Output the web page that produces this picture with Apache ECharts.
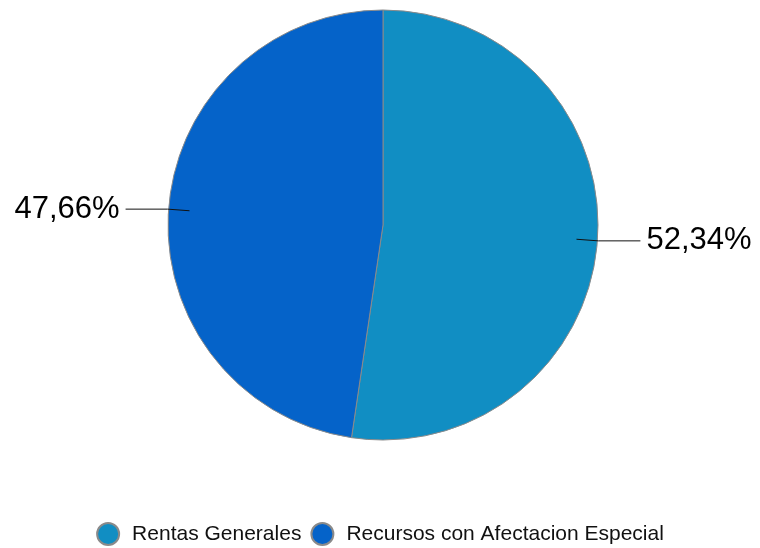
<!DOCTYPE html>
<html><head><meta charset="utf-8">
<script src="https://cdn.jsdelivr.net/npm/echarts@6/dist/echarts.min.js"></script>
<style>html,body{margin:0;padding:0;background:#fff}#c{width:760px;height:548px}</style>
</head><body><div id="c"></div>
<script>
const categories = ["Rentas Generales", "Recursos con Afectacion Especial"];
const values = [52.34, 47.66];
const colors = ["#118EC3", "#0563C9"];

const data = categories.map((n, i) => ({ name: n, value: values[i], itemStyle: { color: colors[i] } }));
const fmt = p => p.percent.toFixed(2).replace('.', ',') + '%';

const chart = echarts.init(document.getElementById('c'), null, { renderer: 'canvas' });
chart.setOption({
  animation: false,
  legend: {
    top: 517, left: 'center', icon: 'circle', itemWidth: 38, itemHeight: 22, itemGap: 9,
    textStyle: { fontFamily: 'Liberation Sans, Arial', fontSize: 21, color: '#111' },
    data: categories
  },
  series: [
    {
      type: 'pie', z: 2, center: [383, 225], radius: 215, startAngle: 90, clockwise: true,
      label: { show: false }, labelLine: { show: false },
      itemStyle: { borderColor: '#8a8a8a', borderWidth: 1 },
      emphasis: { disabled: true },
      data: data
    },
    {
      type: 'pie', z: 10, center: [383, 225], radius: 194, startAngle: 90, clockwise: true, silent: true,
      itemStyle: { color: 'rgba(0,0,0,0)', borderWidth: 0 },
      label: { show: true, position: 'outside', formatter: fmt, overflow: 'none', edgeDistance: 0,
               fontFamily: 'Liberation Sans, Arial', fontSize: 31, color: '#000', distanceToLabelLine: 6, padding: [6, 0, 0, 0] },
      labelLine: { show: true, length: 22, length2: 42, lineStyle: { color: '#111', width: 1 } },
      emphasis: { disabled: true },
      tooltip: { show: false },
      legendHoverLink: false,
      data: categories.map((n, i) => ({ name: n + ' ', value: values[i] }))
    }
  ]
});
</script></body></html>
